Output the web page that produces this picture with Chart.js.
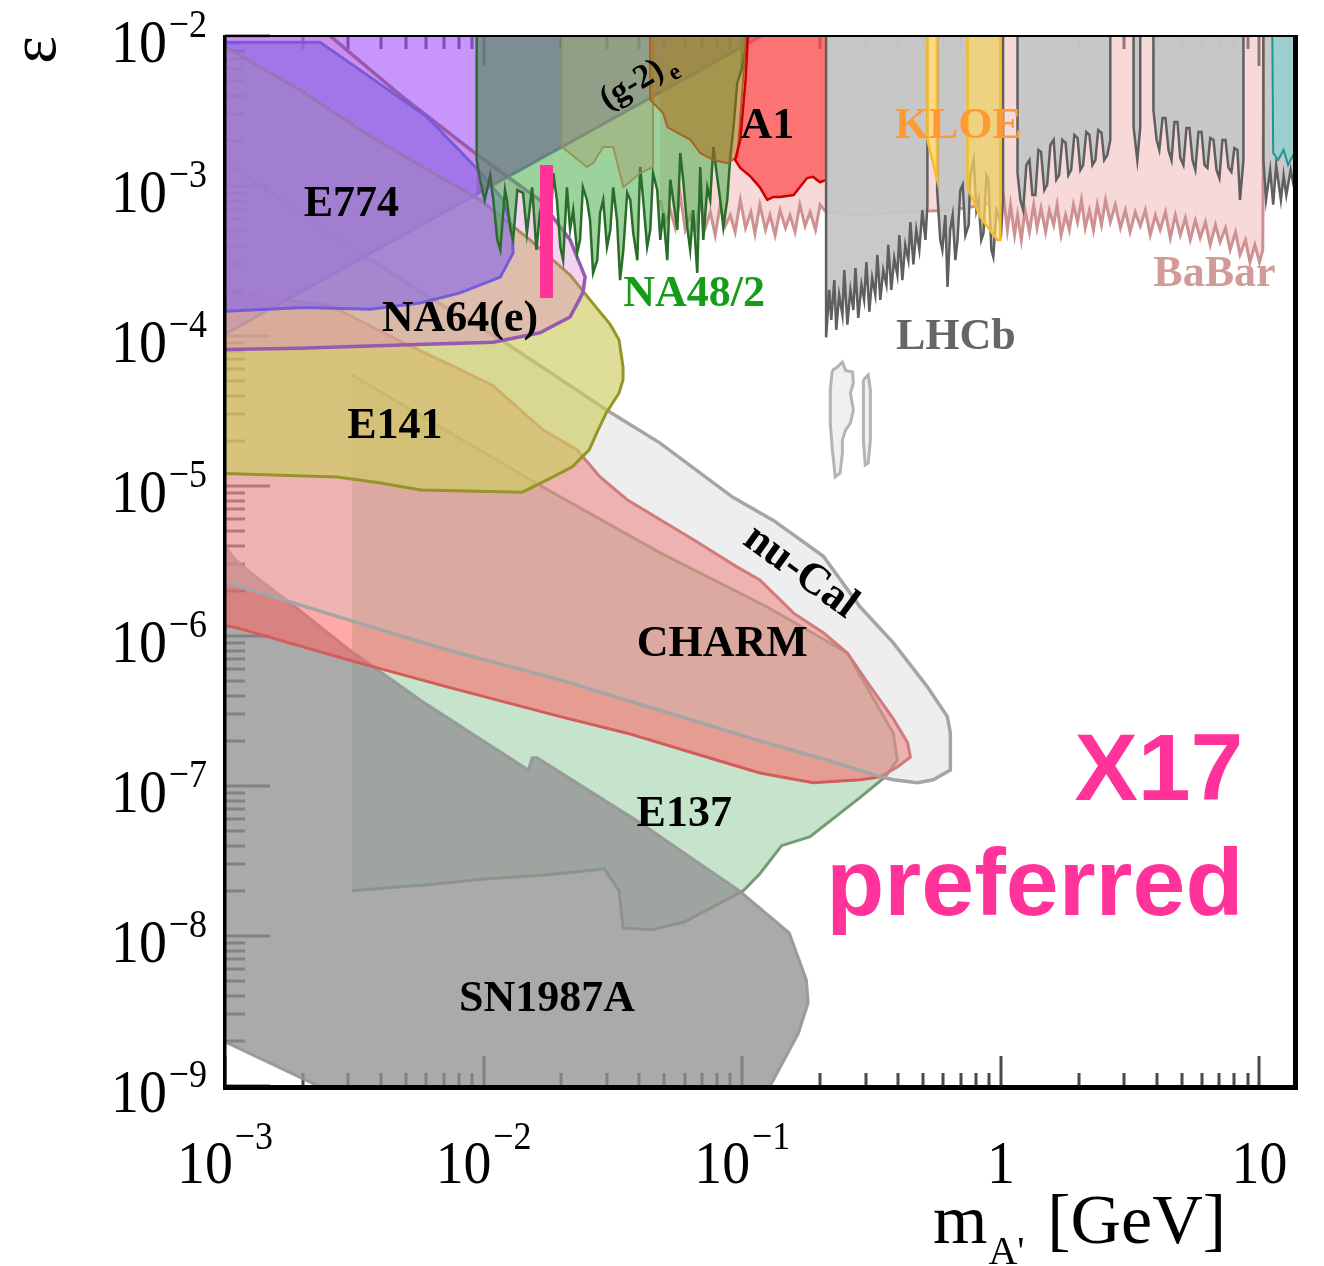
<!DOCTYPE html>
<html>
<head>
<meta charset="utf-8">
<script src="https://cdn.jsdelivr.net/npm/chart.js@4.4.1/dist/chart.umd.min.js"></script>
<style>
  html, body { margin: 0; padding: 0; background: #fff; }
  canvas { display: block; }
</style>
</head>
<body>
<canvas id="limits" width="1324" height="1266"></canvas>
<script>
// ===================
// Data (mass in GeV, epsilon)
// ===================
const massTicks = [1e-3, 1e-2, 1e-1, 1, 10];
const massTickLabels = [['10', '−3'], ['10', '−2'], ['10', '−1'], ['1', ''], ['10', '']];
const epsTicks = [1e-2, 1e-3, 1e-4, 1e-5, 1e-6, 1e-7, 1e-8, 1e-9];
const epsTickLabels = [['10', '−2'], ['10', '−3'], ['10', '−4'], ['10', '−5'], ['10', '−6'], ['10', '−7'], ['10', '−8'], ['10', '−9']];

const e137 = [[3.1e-3,5.5e-5],[1.70e-2,9.8e-6],[4.8e-2,3.6e-6],[0.125,1.56e-6],[0.255,7.7e-7],[0.384,2.25e-7],[0.398,1.49e-7],[0.357,1.15e-7],[0.286,8.4e-8],[0.183,4.6e-8],[0.142,4.0e-8],[0.117,2.6e-8],[0.101,2.0e-8],[5.97e-2,1.24e-8],[4.48e-2,1.1e-8],[3.46e-2,1.13e-8],[3.34e-2,2.0e-8],[2.93e-2,2.8e-8],[1.73e-2,2.55e-8],[1.02e-2,2.4e-8],[6.05e-3,2.2e-8],[3.1e-3,2.0e-8]];

const sn1987a = [[9.5e-4,4.4e-6],[1.10e-3,3.2e-6],[1.27e-3,2.6e-6],[1.87e-3,1.56e-6],[3.02e-3,8.1e-7],[5.74e-3,3.7e-7],[1.49e-2,1.28e-7],[1.54e-2,1.54e-7],[1.61e-2,1.54e-7],[3.96e-2,5.8e-8],[9.76e-2,2.0e-8],[0.152,1.05e-8],[0.177,5.1e-9],[0.180,3.6e-9],[0.165,2.25e-9],[0.122,8.5e-10],[2.8e-3,8.5e-10],[9.5e-4,2.05e-9],[9.5e-4,4.4e-6]];

const charm = [[9e-4,2.0e-4],[2.55e-3,1.6e-4],[4.9e-3,9.0e-5],[7.75e-3,6.2e-5],[1.08e-2,4.7e-5],[1.70e-2,2.36e-5],[2.30e-2,1.74e-5],[2.82e-2,1.15e-5],[3.59e-2,8.1e-6],[6.46e-2,4.4e-6],[9.5e-2,2.9e-6],[0.117,2.36e-6],[0.158,1.42e-6],[0.206,1.05e-6],[0.255,7.7e-7],[0.313,4.6e-7],[0.384,2.8e-7],[0.436,1.94e-7],[0.447,1.56e-7],[0.398,1.34e-7],[0.342,1.15e-7],[0.286,1.1e-7],[0.188,1.05e-7],[0.117,1.22e-7],[6.46e-2,1.66e-7],[3.59e-2,2.25e-7],[1.98e-2,2.9e-7],[7.16e-3,4.6e-7],[3.02e-3,6.9e-7],[1.08e-3,1.15e-6],[9e-4,1.2e-6],[9e-4,2.0e-4]];

const nuCal = [[9.5e-4,1.56e-3],[2.33e-3,5.3e-4],[6.4e-3,1.74e-4],[1.17e-2,9.4e-5],[3.0e-2,3.2e-5],[4.8e-2,1.94e-5],[9.2e-2,8.4e-6],[0.132,5.9e-6],[0.206,3.4e-6],[0.286,1.56e-6],[0.384,9.0e-7],[0.519,4.6e-7],[0.621,2.9e-7],[0.638,2.25e-7],[0.638,1.28e-7],[0.548,1.1e-7],[0.476,1.05e-7],[0.384,1.1e-7],[0.342,1.15e-7],[0.213,1.49e-7],[0.117,2.0e-7],[4.8e-2,3.2e-7],[1.98e-2,5.1e-7],[7.2e-3,8.1e-7],[3.0e-3,1.28e-6],[9.5e-4,2.36e-6],[9.5e-4,1.56e-3]];

const islandA = [[0.223,5.9e-5],[0.233,6.2e-5],[0.244,6.7e-5],[0.251,5.9e-5],[0.267,5.75e-5],[0.269,4.86e-5],[0.262,4.17e-5],[0.269,3.21e-5],[0.262,2.63e-5],[0.251,2.36e-5],[0.244,2.03e-5],[0.244,1.66e-5],[0.239,1.22e-5],[0.229,1.15e-5],[0.223,1.74e-5],[0.219,2.63e-5],[0.219,4.37e-5],[0.223,5.9e-5]];
const islandB = [[0.294,5.1e-5],[0.307,5.5e-5],[0.313,4.37e-5],[0.313,2.03e-5],[0.307,1.42e-5],[0.299,1.38e-5],[0.294,2.03e-5],[0.294,4.37e-5],[0.294,5.1e-5]];

const g2e = [[9e-4,9.3e-5],[0.125,1.05e-2],[0.125,1.3e-2],[9e-4,1.3e-2]];

const e141 = [[9e-4,9.4e-3],[1.95e-3,4.37e-3],[3.42e-3,2.29e-3],[6.38e-3,1.22e-3],[9.7e-3,8.07e-4],[1.51e-2,4.37e-4],[2.16e-2,2.55e-4],[2.58e-2,1.74e-4],[3.09e-2,1.19e-4],[3.34e-2,9.4e-5],[3.46e-2,6.2e-5],[3.46e-2,5.1e-5],[3.34e-2,4.17e-5],[2.98e-2,3.07e-5],[2.77e-2,2.36e-5],[2.56e-2,1.74e-5],[2.20e-2,1.34e-5],[1.76e-2,1.10e-5],[1.41e-2,9.1e-6],[5.74e-3,9.4e-6],[3.94e-3,1.05e-5],[2.71e-3,1.15e-5],[9e-4,1.22e-5],[9e-4,9.4e-3]];

const na64 = [[2.25e-3,1.2e-2],[4.75e-3,4.05e-3],[9.7e-3,1.56e-3],[1.65e-2,8.07e-4],[2.16e-2,4.37e-4],[2.47e-2,2.47e-4],[2.42e-2,1.94e-4],[2.16e-2,1.34e-4],[1.65e-2,1.05e-4],[1.09e-2,9.1e-5],[4.75e-3,8.7e-5],[1.95e-3,8.3e-5],[9e-4,8.1e-5],[9e-4,1.2e-2]];

const e774 = [[9e-4,9.1e-3],[2.33e-3,9.1e-3],[6.05e-3,2.88e-3],[9.7e-3,1.24e-3],[1.19e-2,8.07e-4],[1.29e-2,5.1e-4],[1.30e-2,3.58e-4],[1.16e-2,2.47e-4],[8.1e-3,1.94e-4],[5.68e-3,1.66e-4],[3.64e-3,1.51e-4],[2.04e-3,1.55e-4],[9e-4,1.45e-4]];

const babar = [[4.82e-2,8.07e-4],[5.04e-2,5.75e-4],[5.27e-2,6.9e-4],[5.51e-2,5.25e-4],[5.76e-2,8.7e-4],[6.02e-2,5.1e-4],[6.30e-2,6.4e-4],[6.58e-2,4.93e-4],[6.88e-2,8.07e-4],[7.19e-2,5.25e-4],[7.53e-2,6.7e-4],[7.86e-2,4.7e-4],[8.22e-2,7.5e-4],[8.59e-2,5.4e-4],[8.99e-2,6.4e-4],[9.39e-2,4.93e-4],[9.83e-2,8.07e-4],[0.103,5.25e-4],[0.108,6.7e-4],[0.112,4.8e-4],[0.117,7.5e-4],[0.123,5.1e-4],[0.128,6.4e-4],[0.134,4.7e-4],[0.140,6.9e-4],[0.147,5.25e-4],[0.153,6.4e-4],[0.160,4.93e-4],[0.167,7.5e-4],[0.175,5.4e-4],[0.183,6.7e-4],[0.192,5.1e-4],[0.200,7.5e-4],[0.211,6.7e-4],[0.286,6.4e-4],[0.408,6.7e-4],[0.637,6.9e-4],[0.87,7.5e-4],[1.02,9.0e-4],[1.06,5.1e-4],[1.09,7.5e-4],[1.13,4.7e-4],[1.16,6.4e-4],[1.20,4.37e-4],[1.24,6.9e-4],[1.29,4.93e-4],[1.34,7.5e-4],[1.38,5.25e-4],[1.43,7.1e-4],[1.49,4.93e-4],[1.54,6.9e-4],[1.60,5.5e-4],[1.65,7.5e-4],[1.71,4.7e-4],[1.78,6.4e-4],[1.84,5.1e-4],[1.91,7.5e-4],[1.98,5.75e-4],[2.05,8.07e-4],[2.12,5.25e-4],[2.20,6.9e-4],[2.28,5.1e-4],[2.36,7.5e-4],[2.45,5.5e-4],[2.54,8.07e-4],[2.65,5.75e-4],[2.77,7.5e-4],[2.90,5.25e-4],[3.03,6.9e-4],[3.16,4.93e-4],[3.31,6.7e-4],[3.46,5.4e-4],[3.62,6.9e-4],[3.78,4.7e-4],[3.96,6.4e-4],[4.13,5.1e-4],[4.33,6.7e-4],[4.52,4.5e-4],[4.73,6.4e-4],[4.94,4.7e-4],[5.17,6.12e-4],[5.40,4.37e-4],[5.65,5.9e-4],[5.90,4.5e-4],[6.18,5.75e-4],[6.45,4.05e-4],[6.76,5.5e-4],[7.04,4.23e-4],[7.39,5.25e-4],[7.70,3.75e-4],[8.08,4.93e-4],[8.41,3.48e-4],[8.83,4.37e-4],[9.19,3.11e-4],[9.6,4.05e-4],[10.0,3.11e-4],[10.3,3.75e-4],[10.4,1.3e-2],[4.82e-2,1.3e-2]];

const na48 = [[9.4e-3,1.3e-2],[0.105,1.3e-2],[0.105,9.8e-3],[0.100,6.2e-3],[9.57e-2,4.86e-3],[9.23e-2,2.36e-3],[8.99e-2,1.56e-3],[8.75e-2,8.07e-4],[8.45e-2,5.3e-4],[8.22e-2,8.07e-4],[7.93e-2,1.28e-3],[7.73e-2,1.82e-3],[7.52e-2,8.07e-4],[7.33e-2,9.8e-4],[7.07e-2,4.37e-4],[6.88e-2,1.34e-3],[6.70e-2,2.63e-4],[6.46e-2,6.9e-4],[6.29e-2,3.75e-4],[6.13e-2,5.3e-4],[5.91e-2,1.10e-3],[5.76e-2,1.66e-3],[5.61e-2,5.1e-4],[5.41e-2,8.07e-4],[5.27e-2,1.10e-3],[5.13e-2,3.2e-4],[4.95e-2,6.6e-4],[4.82e-2,4.37e-4],[4.69e-2,9.4e-4],[4.52e-2,1.22e-3],[4.41e-2,5.1e-4],[4.29e-2,3.92e-4],[4.14e-2,8.07e-4],[4.03e-2,1.34e-3],[3.93e-2,3.2e-4],[3.79e-2,4.86e-4],[3.69e-2,8.07e-4],[3.59e-2,9.0e-4],[3.47e-2,3.75e-4],[3.37e-2,2.36e-4],[3.28e-2,5.9e-4],[3.17e-2,9.8e-4],[3.09e-2,5.1e-4],[3.0e-2,3.92e-4],[2.90e-2,8.07e-4],[2.82e-2,6.6e-4],[2.75e-2,3.2e-4],[2.65e-2,2.63e-4],[2.58e-2,5.9e-4],[2.51e-2,8.07e-4],[2.42e-2,9.8e-4],[2.36e-2,4.37e-4],[2.30e-2,3.58e-4],[2.22e-2,6.9e-4],[2.16e-2,5.1e-4],[2.10e-2,9.8e-4],[2.03e-2,3.2e-4],[1.98e-2,3.92e-4],[1.92e-2,8.07e-4],[1.86e-2,1.22e-3],[1.81e-2,5.1e-4],[1.76e-2,4.37e-4],[1.70e-2,8.07e-4],[1.65e-2,6.6e-4],[1.60e-2,3.75e-4],[1.54e-2,9.8e-4],[1.47e-2,4.86e-4],[1.42e-2,9.0e-4],[1.35e-2,9.4e-4],[1.30e-2,4.37e-4],[1.27e-2,5.1e-4],[1.23e-2,8.07e-4],[1.21e-2,9.4e-4],[1.16e-2,3.75e-4],[1.13e-2,4.37e-4],[1.09e-2,8.07e-4],[1.06e-2,1.18e-3],[1.01e-2,8.07e-4],[9.69e-3,1.10e-3],[9.4e-3,1.49e-3],[9.4e-3,1.3e-2]];

const g2Shade = [[9.4e-3,1.3e-2],[2.01e-2,1.3e-2],[2.01e-2,1.82e-3],[9.4e-3,8.85e-4]];

const oliveBand = [[2.01e-2,1.3e-2],[4.52e-2,1.3e-2],[4.52e-2,1.34e-3],[4.03e-2,1.22e-3],[3.47e-2,9.8e-4],[3.17e-2,1.82e-3],[2.90e-2,1.82e-3],[2.65e-2,1.42e-3],[2.51e-2,1.34e-3],[2.01e-2,1.82e-3],[2.01e-2,1.3e-2]];

const brownBand = [[4.40e-2,1.3e-2],[0.103,1.3e-2],[0.103,8.45e-3],[9.57e-2,1.56e-3],[8.75e-2,1.42e-3],[7.73e-2,1.49e-3],[6.88e-2,1.66e-3],[6.30e-2,2.03e-3],[5.13e-2,2.47e-3],[4.95e-2,3.07e-3],[4.40e-2,3.75e-3],[4.40e-2,1.3e-2]];

const a1 = [[0.211,1.10e-3],[0.200,1.06e-3],[0.188,1.15e-3],[0.178,1.13e-3],[0.158,8.7e-4],[0.140,8.45e-4],[0.132,8.45e-4],[0.125,8.07e-4],[0.117,9.8e-4],[0.108,1.15e-3],[9.83e-2,1.32e-3],[9.39e-2,1.49e-3],[9.83e-2,2.03e-3],[0.103,5.1e-3],[0.106,1.3e-2],[0.211,1.3e-2]];

const lhcb = [[0.211,1.3e-2],[0.211,9.8e-5],[0.217,2.03e-4],[0.221,1.28e-4],[0.227,2.36e-4],[0.231,1.10e-4],[0.237,1.88e-4],[0.244,1.38e-4],[0.248,2.75e-4],[0.255,1.19e-4],[0.262,2.03e-4],[0.269,1.49e-4],[0.274,2.84e-4],[0.281,1.32e-4],[0.289,2.2e-4],[0.296,1.74e-4],[0.302,3.11e-4],[0.310,1.45e-4],[0.318,2.44e-4],[0.327,1.88e-4],[0.333,3.48e-4],[0.342,1.74e-4],[0.351,2.75e-4],[0.361,2.2e-4],[0.367,4.05e-4],[0.377,2.03e-4],[0.387,3.31e-4],[0.398,2.55e-4],[0.405,4.7e-4],[0.416,2.36e-4],[0.427,4.05e-4],[0.439,3.2e-4],[0.447,5.75e-4],[0.459,3.0e-4],[0.471,5.1e-4],[0.484,3.75e-4],[0.497,6.9e-4],[0.511,4.37e-4],[0.52,7.5e-4],[0.52,1.3e-2],[0.567,1.3e-2],[0.567,9.4e-4],[0.583,4.37e-4],[0.594,3.75e-4],[0.610,6.4e-4],[0.622,2.12e-4],[0.637,5.1e-4],[0.651,6.4e-4],[0.667,3.2e-4],[0.680,4.37e-4],[0.697,9.4e-4],[0.712,1.02e-3],[0.729,4.7e-4],[0.751,5.5e-4],[0.762,1.18e-3],[0.785,1.49e-3],[0.804,6.9e-4],[0.82,8.07e-4],[0.840,4.37e-4],[0.857,4.86e-4],[0.879,1.18e-3],[0.895,1.10e-3],[0.919,3.75e-4],[0.935,3.36e-4],[0.961,6.9e-4],[0.978,6.4e-4],[1.004,5.1e-4],[1.02,8.07e-4],[1.02,1.3e-2],[1.16,1.3e-2],[1.16,1.22e-3],[1.19,8.07e-4],[1.22,6.9e-4],[1.255,1.38e-3],[1.29,1.49e-3],[1.324,8.7e-4],[1.36,8.7e-4],[1.397,1.74e-3],[1.43,1.69e-3],[1.473,9.4e-4],[1.51,1.02e-3],[1.554,1.88e-3],[1.60,2.03e-3],[1.639,1.10e-3],[1.68,1.18e-3],[1.729,2.03e-3],[1.78,1.94e-3],[1.824,1.18e-3],[1.87,1.28e-3],[1.924,2.19e-3],[1.98,2.09e-3],[2.03,1.28e-3],[2.08,1.38e-3],[2.14,2.29e-3],[2.20,2.19e-3],[2.26,1.38e-3],[2.32,1.49e-3],[2.38,2.36e-3],[2.45,2.26e-3],[2.51,1.49e-3],[2.58,1.61e-3],[2.65,2.03e-3],[2.65,1.3e-2],[3.26,1.3e-2],[3.26,2.47e-3],[3.37,1.49e-3],[3.46,2.47e-3],[3.46,1.3e-2],[3.89,1.3e-2],[3.89,3.21e-3],[4.00,2.03e-3],[4.10,1.74e-3],[4.22,2.84e-3],[4.33,2.84e-3],[4.45,1.74e-3],[4.57,1.49e-3],[4.69,2.67e-3],[4.82,2.67e-3],[4.94,1.54e-3],[5.08,1.38e-3],[5.22,2.44e-3],[5.36,2.44e-3],[5.51,1.49e-3],[5.65,1.28e-3],[5.81,2.29e-3],[5.97,2.29e-3],[6.13,1.38e-3],[6.29,1.32e-3],[6.45,2.09e-3],[6.64,2.03e-3],[6.82,1.28e-3],[7.0,1.13e-3],[7.19,2.03e-3],[7.39,2.03e-3],[7.59,1.32e-3],[7.79,1.24e-3],[8.00,1.79e-3],[8.22,1.74e-3],[8.41,8.07e-4],[8.67,1.49e-3],[8.67,1.3e-2],[10.36,1.3e-2],[10.36,1.49e-3],[10.6,8.07e-4],[11.0,1.28e-3],[11.3,7.5e-4],[11.6,1.38e-3],[12.1,8.07e-4],[12.4,1.18e-3],[12.7,8.7e-4],[13.2,1.28e-3],[13.8,8.7e-4],[15,1.10e-3],[15,1.3e-2]];

const kloeA = [[0.52,1.3e-2],[0.567,1.3e-2],[0.567,1.10e-3],[0.52,2.03e-3],[0.52,1.3e-2]];
const kloeB = [[0.743,1.3e-2],[0.995,1.3e-2],[0.995,4.37e-4],[0.97,4.37e-4],[0.833,6.2e-4],[0.743,9.8e-4],[0.743,1.3e-2]];

const tealBand = [[11.2,1.3e-2],[15,1.3e-2],[15,1.49e-3],[13.5,1.61e-3],[12.9,1.38e-3],[12.4,1.74e-3],[11.8,1.49e-3],[11.3,1.66e-3],[11.2,1.3e-2]];

const x17Bar = [[1.75e-2,1.38e-3],[1.75e-2,1.79e-4]];

const regionLabels = [
  { text: 'E774', m: 3.08e-3, eps: 7.5e-4 },
  { text: 'NA64(e)', m: 8.1e-3, eps: 1.28e-4 },
  { text: 'E141', m: 4.54e-3, eps: 2.47e-5 },
  { text: 'A1', m: 0.125, eps: 2.47e-3 },
  { text: 'NA48/2', m: 6.52e-2, eps: 1.88e-4, color: '#169c16' },
  { text: 'KLOE', m: 0.685, eps: 2.47e-3, color: '#ff9933' },
  { text: 'LHCb', m: 0.67, eps: 9.7e-5, color: '#666666' },
  { text: 'BaBar', m: 6.7, eps: 2.55e-4, color: '#d29a98' },
  { text: 'nu-Cal', m: 0.168, eps: 2.67e-6, rot: 36 },
  { text: 'CHARM', m: 8.37e-2, eps: 8.7e-7 },
  { text: 'E137', m: 5.97e-2, eps: 6.4e-8 },
  { text: 'SN1987A', m: 1.76e-2, eps: 3.74e-9 }
];

// ===================
// Datasets
// ===================
function region(pts, fillColor, lineColor, width) {
  return {
    data: pts.map(p => ({ x: p[0], y: p[1] })),
    showLine: true,
    fill: fillColor ? 'shape' : false,
    backgroundColor: fillColor || 'transparent',
    borderColor: lineColor || 'transparent',
    borderWidth: width || 0,
    pointRadius: 0,
    tension: 0,
    clip: 0
  };
}

const datasets = [
  region(e137, 'rgba(120,190,130,0.42)', 'rgba(105,145,105,0.9)', 3),
  region(sn1987a, 'rgba(146,146,146,0.78)', 'rgba(150,150,150,0.9)', 3),
  region(charm, 'rgba(255,97,97,0.54)', 'rgba(212,92,92,1)', 3),
  region(nuCal, 'rgba(200,200,200,0.3)', 'rgba(165,165,165,1)', 3.5),
  region(islandA, 'rgba(225,225,225,0.5)', 'rgba(180,180,180,1)', 3),
  region(islandB, 'rgba(225,225,225,0.5)', 'rgba(180,180,180,1)', 3),
  region(g2e, 'rgba(163,80,247,0.6)', 'rgba(110,90,205,1)', 3),
  region(e141, 'rgba(205,205,97,0.65)', 'rgba(150,150,40,1)', 3),
  region(na64, 'rgba(220,120,210,0.33)', 'rgba(150,90,175,1)', 3.5),
  region(e774, 'rgba(138,106,229,0.65)', 'rgba(118,92,218,1)', 3),
  region(babar, 'rgba(240,170,170,0.45)', 'rgba(205,145,145,1)', 3),
  region(na48, 'rgba(90,180,90,0.6)', 'rgba(42,108,42,1)', 2.5),
  region(g2Shade, 'rgba(100,80,130,0.3)', null, 0),
  region(oliveBand, 'rgba(166,143,97,0.35)', 'rgba(150,150,90,1)', 2),
  region(brownBand, 'rgba(176,108,14,0.5)', 'rgba(165,100,40,1)', 2),
  region(a1, 'rgba(255,60,60,0.65)', 'rgba(205,0,0,1)', 2.5),
  region(lhcb, 'rgba(198,198,198,0.95)', 'rgba(95,95,95,1)', 2.5),
  region(kloeA, 'rgba(255,215,100,0.7)', 'rgba(245,190,40,1)', 2.5),
  region(kloeB, 'rgba(255,215,100,0.7)', 'rgba(245,190,40,1)', 2.5),
  region(tealBand, 'rgba(120,210,210,0.55)', 'rgba(30,150,150,1)', 2),
  Object.assign(region(x17Bar, null, '#ff3399', 13), { borderCapStyle: 'butt' })
];
// first in list is drawn first (at the back)
datasets.forEach((d, i) => { d.order = datasets.length - i; });

// ===================
// Axes, ticks, labels
// ===================
const serif = '"Liberation Serif", "Times New Roman", serif';

const axesPlugin = {
  id: 'axesPlugin',
  beforeDatasetsDraw(chart) {
    const { ctx, chartArea: a, scales: { x, y } } = chart;
    ctx.save();
    ctx.strokeStyle = '#4a4a4a';
    ctx.lineWidth = 3;
    ctx.beginPath();
    massTicks.forEach(d => {
      for (let k = 1; k <= 9; k++) {
        const v = d * k;
        if (v < x.min * 0.999 || v > x.max) continue;
        const px = Math.round(x.getPixelForValue(v));
        const len = k === 1 ? 30 : 13;
        ctx.moveTo(px, a.bottom); ctx.lineTo(px, a.bottom - len);
        ctx.moveTo(px, a.top); ctx.lineTo(px, a.top + len);
      }
    });
    epsTicks.forEach(d => {
      for (let k = 1; k <= 9; k++) {
        const v = d * k;
        if (v > y.max * 1.001) continue;
        const py = Math.round(y.getPixelForValue(v));
        const len = k === 1 ? 45 : 20;
        ctx.moveTo(a.left, py); ctx.lineTo(a.left + len, py);
      }
    });
    ctx.stroke();
    ctx.restore();
  },
  afterDatasetsDraw(chart) {
    const { ctx, chartArea: a } = chart;
    ctx.save();
    ctx.fillStyle = '#000';
    ctx.fillRect(a.left - 2, a.top - 1, 3.5, a.bottom - a.top + 4);
    ctx.fillRect(a.left - 2, a.bottom - 1, a.right - a.left + 6, 5);
    ctx.fillRect(a.right - 1, a.top - 1, 5, a.bottom - a.top + 5);
    ctx.fillRect(a.left - 2, a.top - 1, a.right - a.left + 6, 2);

    // region names
    ctx.textAlign = 'center';
    ctx.textBaseline = 'middle';
    const { x, y } = chart.scales;
    regionLabels.forEach(l => {
      ctx.save();
      ctx.translate(x.getPixelForValue(l.m), y.getPixelForValue(l.eps));
      if (l.rot) ctx.rotate(l.rot * Math.PI / 180);
      ctx.font = 'bold 44px ' + serif;
      ctx.fillStyle = l.color || '#000';
      ctx.fillText(l.text, 0, 0);
      ctx.restore();
    });

    // (g-2)_e along its boundary
    ctx.save();
    ctx.translate(x.getPixelForValue(3.75e-2), y.getPixelForValue(4.71e-3));
    ctx.rotate(-31 * Math.PI / 180);
    ctx.fillStyle = '#000';
    ctx.font = 'bold 34px ' + serif;
    const gw = ctx.measureText('(g-2)').width;
    ctx.fillText('(g-2)', 0, 0);
    ctx.font = 'bold 24px ' + serif;
    ctx.fillText('e', gw / 2 + 9, 12);
    ctx.restore();

    // X17 preferred
    ctx.fillStyle = '#ff3399';
    ctx.font = 'bold 95px "Liberation Sans", Arial, sans-serif';
    ctx.textAlign = 'right';
    ctx.textBaseline = 'alphabetic';
    ctx.fillText('X17', x.getPixelForValue(8.67), y.getPixelForValue(8.07e-8));
    ctx.fillText('preferred', x.getPixelForValue(8.67), y.getPixelForValue(1.38e-8));
    ctx.restore();
  },
  afterDraw(chart) {
    const { ctx, chartArea: a, scales: { x, y } } = chart;
    const sx = 0.9;
    ctx.save();
    ctx.fillStyle = '#000';
    ctx.textAlign = 'left';
    ctx.textBaseline = 'alphabetic';
    const big = '62px ' + serif, small = '40px ' + serif;

    epsTicks.forEach((v, i) => {
      const [base, exp] = epsTickLabels[i];
      const py = y.getPixelForValue(v);
      ctx.font = big; const w1 = ctx.measureText(base).width;
      ctx.font = small; const w2 = ctx.measureText(exp).width;
      const total = (w1 + 2 + w2) * sx;
      ctx.save();
      ctx.translate(207 - total, 0);
      ctx.scale(sx, 1);
      ctx.font = big; ctx.fillText(base, 0, py + 26);
      ctx.font = small; ctx.fillText(exp, w1 + 2, py + 1);
      ctx.restore();
    });

    massTicks.forEach((v, i) => {
      const [base, exp] = massTickLabels[i];
      const px = x.getPixelForValue(v);
      ctx.font = big; const w1 = ctx.measureText(base).width;
      ctx.font = small; const w2 = exp ? ctx.measureText(exp).width + 2 : 0;
      const total = (w1 + w2) * sx;
      ctx.save();
      ctx.translate(px - total / 2, 0);
      ctx.scale(sx, 1);
      ctx.font = big; ctx.fillText(base, 0, a.bottom + 97);
      if (exp) { ctx.font = small; ctx.fillText(exp, w1 + 2, a.bottom + 63); }
      ctx.restore();
    });

    // x title: m_A' [GeV]
    ctx.font = '70px ' + serif;
    ctx.fillText('m', 933, 1243);
    const wm = ctx.measureText('m').width;
    ctx.font = '40px ' + serif;
    ctx.fillText("A'", 933 + wm + 1, 1264);
    ctx.font = '70px ' + serif;
    ctx.textAlign = 'right';
    ctx.fillText('[GeV]', 1226, 1243);

    // y title: epsilon
    ctx.save();
    ctx.translate(38, 50);
    ctx.rotate(-Math.PI / 2);
    ctx.textAlign = 'center';
    ctx.textBaseline = 'middle';
    ctx.font = '66px ' + serif;
    ctx.fillText('ε', 0, 0);
    ctx.restore();
    ctx.restore();
  }
};

// ===================
// Chart
// ===================
const ctx = document.getElementById('limits').getContext('2d');

new Chart(ctx, {
  type: 'scatter',
  data: { datasets },
  options: {
    responsive: false,
    animation: false,
    layout: { padding: { left: 225, top: 36, right: 30, bottom: 180 } },
    scales: {
      x: { type: 'logarithmic', min: 1e-3, max: 13.6, display: false },
      y: { type: 'logarithmic', min: 1e-9, max: 1e-2, display: false }
    },
    plugins: {
      legend: { display: false },
      tooltip: { enabled: false }
    }
  },
  plugins: [axesPlugin]
});
</script>
</body>
</html>
